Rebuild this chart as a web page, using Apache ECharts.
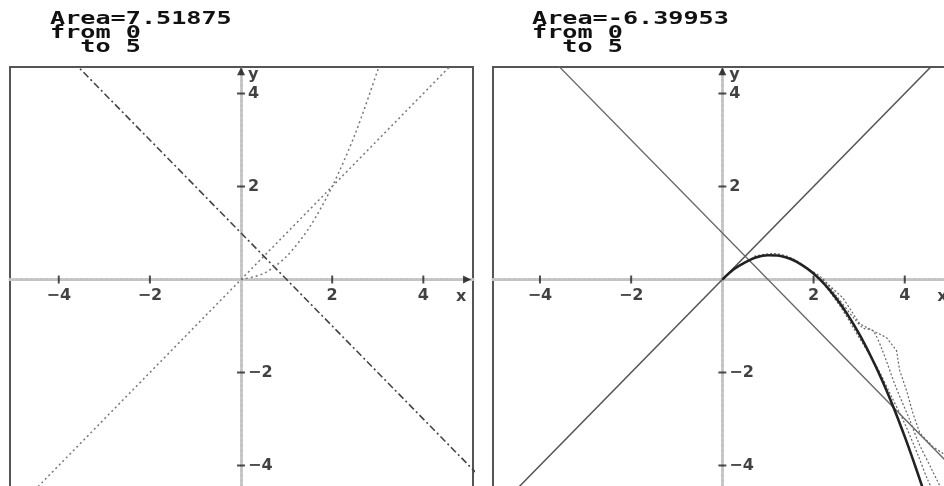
<!DOCTYPE html>
<html>
<head>
<meta charset="utf-8">
<script src="https://cdn.jsdelivr.net/npm/echarts@6/dist/echarts.min.js"></script>
<style>
html, body { margin: 0; background: #fff; }
#main { width: 944px; height: 486px; }
</style>
</head>
<body>
<div id="main"></div>
<script>
var xTicks = [-4, -2, 2, 4]
var yTicks = [-4, -2, 2, 4]
var leftTitle = ["Area=7.51875", "from 0", "  to 5"]
var rightTitle = ["Area=-6.39953", "from 0", "  to 5"]

// left plot
var diagLine = [[-5.3, -5.3], [5.3, 5.3]]
var fallLine = [[-5.3, 6.3], [5.3, -4.3]]
var parabola = [[0, 0], [0.5, 0.13], [1, 0.5], [1.5, 1.12], [2, 2], [2.5, 3.12], [3, 4.5], [3.1, 4.8]]

// right plot
var mainCurve = [[0, 0], [0.25, 0.22], [0.5, 0.37], [0.75, 0.48], [1, 0.52], [1.25, 0.51], [1.5, 0.44],
  [1.75, 0.31], [2, 0.13], [2.25, -0.11], [2.5, -0.41], [2.75, -0.76], [3, -1.17], [3.25, -1.64],
  [3.5, -2.16], [3.75, -2.74], [4, -3.38], [4.25, -4.07], [4.5, -4.8]]
var dotA = [[0.7, 0.5], [1.1, 0.56], [1.5, 0.47], [1.9, 0.22], [2.2, 0.02], [2.5, -0.35], [2.9, -0.85],
  [3.1, -1.05], [3.3, -1.1], [3.5, -1.5], [3.8, -2.3], [4.1, -3.0], [4.3, -3.5], [4.6, -4.1], [4.9, -4.7]]
var dotB = [[2.2, 0.0], [2.64, -0.39], [3.01, -0.95], [3.3, -1.1], [3.6, -1.25], [3.82, -1.53], [3.89, -1.96],
  [4.04, -2.39], [4.18, -2.88], [4.33, -3.3], [4.62, -3.6], [4.84, -3.74], [5.0, -3.9]]
var dotC = [[2.15, 0.0], [2.6, -0.6], [3.0, -1.25], [3.4, -1.9], [3.7, -2.5], [4.0, -3.1], [4.3, -3.8],
  [4.5, -4.3], [4.7, -4.7]]

var arrowX = [4.96, 0]
var arrowY = [0, 4.48]

var chart = echarts.init(document.getElementById("main"))

function minus(v) {
  return String(v).replace("-", "\u2212")
}

var labelFont = { fontFamily: "DejaVu Sans", fontWeight: "bold", fontSize: 16, color: "#111" }

function axisSet(min, max, idx) {
  return {
    gridIndex: idx,
    type: "value",
    min: min,
    max: max,
    axisLine: { onZero: true, lineStyle: { color: "#c4c4c4", width: 3, type: [3, 2] } },
    axisTick: { show: false },
    axisLabel: { show: false },
    splitLine: { show: false }
  }
}

// ticks, tick labels and arrows of one plot
function decor(idx) {
  return [
    {
      type: "scatter", xAxisIndex: idx, yAxisIndex: idx, silent: true, z: 5,
      symbol: "rect", symbolSize: [2, 8],
      itemStyle: { color: "#222" },
      label: Object.assign({ show: true, position: "bottom", distance: 4,
        formatter: function (p) { return minus(p.value[0]) } }, labelFont),
      data: xTicks.map(function (v) { return [v, 0] })
    },
    {
      type: "scatter", xAxisIndex: idx, yAxisIndex: idx, silent: true, z: 5,
      symbol: "rect", symbolSize: [8, 2],
      itemStyle: { color: "#222" },
      label: Object.assign({ show: true, position: "right", distance: 3,
        formatter: function (p) { return minus(p.value[1]) } }, labelFont),
      data: yTicks.map(function (v) { return [0, v] })
    },
    {
      type: "scatter", xAxisIndex: idx, yAxisIndex: idx, silent: true, z: 5,
      symbol: "triangle", symbolSize: [8, 8], symbolRotate: -90,
      itemStyle: { color: "#111" },
      label: Object.assign({ show: true, position: "bottom", distance: 5, offset: [-6, 0],
        formatter: "x" }, labelFont),
      data: [arrowX]
    },
    {
      type: "scatter", xAxisIndex: idx, yAxisIndex: idx, silent: true, z: 5,
      symbol: "triangle", symbolSize: [8, 8],
      itemStyle: { color: "#111" },
      label: Object.assign({ show: true, position: "right", distance: 3, offset: [0, 4],
        formatter: "y" }, labelFont),
      data: [arrowY]
    }
  ]
}

function curve(idx, data, color, width, type, smooth) {
  return {
    type: "line", xAxisIndex: idx, yAxisIndex: idx, silent: true,
    showSymbol: false, smooth: smooth ? 0.3 : false,
    lineStyle: { color: color, width: width, type: type },
    data: data
  }
}

function title(x, lines) {
  return {
    type: "text", x: x, y: 13, scaleX: 1.48,
    style: {
      text: lines.join("\n"),
      font: "bold 17px 'DejaVu Sans Mono'",
      lineHeight: 14,
      fill: "#111"
    }
  }
}

var option = {
  backgroundColor: "#fff",
  animation: false,
  graphic: [title(50, leftTitle), title(532, rightTitle)],
  grid: [
    { left: 10, top: 67, width: 463, height: 425, outerBoundsMode: "none", containLabel: false,
      show: true, borderColor: "#555", borderWidth: 2, backgroundColor: "#fff" },
    { left: 493, top: 67, width: 461, height: 425, outerBoundsMode: "none", containLabel: false,
      show: true, borderColor: "#555", borderWidth: 2, backgroundColor: "#fff" }
  ],
  xAxis: [axisSet(-5.07, 5.09, 0), axisSet(-5.03, 5.08, 1)],
  yAxis: [axisSet(-4.57, 4.57, 0), axisSet(-4.57, 4.57, 1)],
  series: [
    curve(0, diagLine, "#777", 1.5, [2, 3]),
    curve(0, fallLine, "#444", 1.6, [7, 3, 2, 3]),
    curve(0, parabola, "#777", 1.5, [2, 3], true),
    curve(1, diagLine, "#555", 1.5, "solid"),
    curve(1, fallLine, "#666", 1.3, "solid"),
    curve(1, dotA, "#666", 1.2, [2, 2], true),
    curve(1, dotB, "#666", 1.2, [2, 2]),
    curve(1, dotC, "#666", 1.2, [2, 2], true),
    curve(1, mainCurve, "#222", 2.6, "solid", true)
  ].concat(decor(0), decor(1))
}

chart.setOption(option)
</script>
</body>
</html>
